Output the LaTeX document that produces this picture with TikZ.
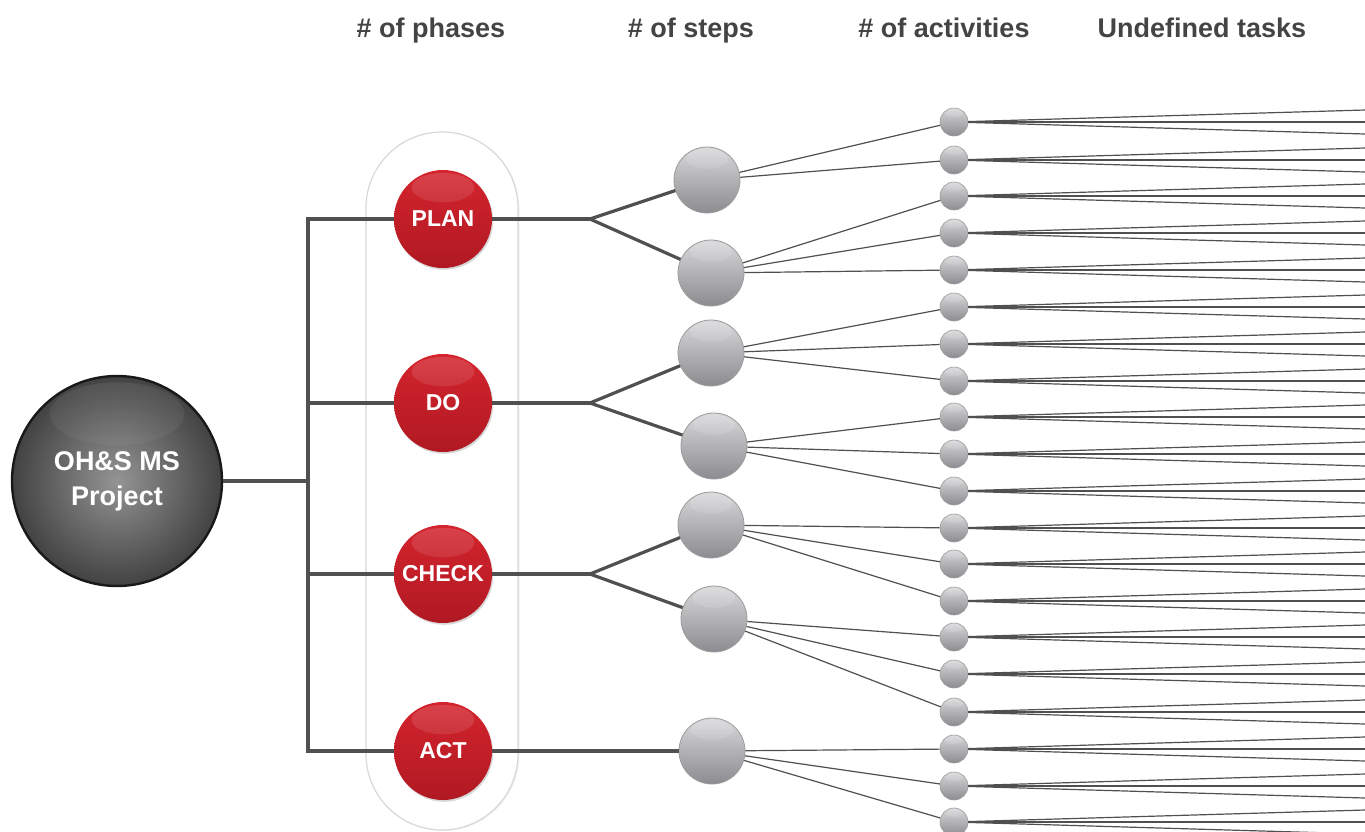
\documentclass[tikz,border=0pt]{standalone}
\usepackage{fontspec}
\setmainfont{Liberation Sans}
\usetikzlibrary{shadows,fadings}
\definecolor{hdr}{HTML}{444444}
\definecolor{ln}{HTML}{505050}
\definecolor{redtop}{HTML}{D4242E}
\definecolor{redmid}{HTML}{CC1F29}
\definecolor{redbot}{HTML}{B01922}
\definecolor{stepTop}{HTML}{D8D8DA}
\definecolor{stepBot}{HTML}{8C8C90}
\definecolor{stepBorder}{HTML}{9C9C9C}
\definecolor{pillBorder}{HTML}{D8D8D8}
\tikzset{
  hdrtext/.style={font=\bfseries\fontsize{27}{30}\selectfont, text=hdr, anchor=base, inner sep=0pt},
  glossy/.style 2 args={path picture={\fill[white,fill opacity=#2,path fading=south]
      ([yshift=-0.36*#1]path picture bounding box.north) ellipse [x radius=0.64*#1, y radius=0.30*#1];}},
  mainc/.style={circle, minimum size=210pt, inner sep=0pt, draw=black!90, line width=2.4pt,
      inner color=black!42, outer color=black!74, glossy={105pt}{0.07},
      text=white, font=\bfseries\fontsize{27}{35}\selectfont, align=center},
  phasec/.style={circle, minimum size=98pt, inner sep=0pt,
      top color=redtop, middle color=redmid, bottom color=redbot, glossy={49pt}{0.14},
      drop shadow={opacity=0.30, shadow xshift=1.2pt, shadow yshift=-1.8pt},
      text=white, font=\bfseries\fontsize{23}{26}\selectfont},
  stepc/.style={circle, minimum size=66pt, inner sep=0pt, draw=stepBorder, line width=0.8pt,
      top color=stepTop, bottom color=stepBot, glossy={33pt}{0.16}},
  actc/.style={circle, minimum size=28pt, inner sep=0pt, draw=stepBorder, line width=0.6pt,
      top color=stepTop, bottom color=stepBot, glossy={14pt}{0.16}},
  pill/.style={draw=pillBorder, line width=1.2pt, fill=white, rounded corners=76pt,
      minimum width=152pt, minimum height=698pt, inner sep=0pt,
      drop shadow={opacity=0.10, shadow xshift=1.5pt, shadow yshift=-1pt}},
  thick line/.style={draw=ln, line width=3.2pt},
  thin line/.style={draw=ln, line width=1.2pt},
}
\begin{document}
\begin{tikzpicture}[x=1pt,y=-1pt]
\useasboundingbox (0,0) rectangle (1365,831);
\fill[white] (0,0) rectangle (1365,831);

% headers
\node[hdrtext] (h1) at (431,37) {\# of phases};
\node[hdrtext] (h2) at (691,37) {\# of steps};
\node[hdrtext] (h3) at (944,37) {\# of activities};
\node[hdrtext] (h4) at (1202,37) {Undefined tasks};

% band behind phases
\node[pill] (band) at (442,481) {};

% main node
\node[mainc] (m) at (117,481) {OH\&S MS\\Project};

% phases
\node[phasec] (plan) at (443,219) {PLAN};
\node[phasec] (do) at (443,403) {DO};
\node[phasec] (check) at (443,574) {CHECK};
\node[phasec] (act) at (443,751) {ACT};

% steps
\node[stepc] (s1) at (707,180) {};
\node[stepc] (s2) at (711,273) {};
\node[stepc] (s3) at (711,353) {};
\node[stepc] (s4) at (714,446) {};
\node[stepc] (s5) at (711,525) {};
\node[stepc] (s6) at (714,619) {};
\node[stepc] (s7) at (712,751) {};

% bus and branch coordinates
\coordinate (b0) at (308,481);
\coordinate (bP) at (308,219);
\coordinate (bD) at (308,403);
\coordinate (bC) at (308,574);
\coordinate (bA) at (308,751);
\coordinate (jP) at (590,219);
\coordinate (jD) at (590,403);
\coordinate (jC) at (590,574);

\draw[thick line] (m) -- (b0);
\draw[thick line, line cap=rect] (bP) -- (bA);
\draw[thick line] (bP) -- (plan);
\draw[thick line] (bD) -- (do);
\draw[thick line] (bC) -- (check);
\draw[thick line] (bA) -- (act);

\draw[thick line] (plan) -- (jP);
\draw[thick line] (jP) -- (s1);
\draw[thick line] (jP) -- (s2);
\draw[thick line] (do) -- (jD);
\draw[thick line] (jD) -- (s3);
\draw[thick line] (jD) -- (s4);
\draw[thick line] (check) -- (jC);
\draw[thick line] (jC) -- (s5);
\draw[thick line] (jC) -- (s6);
\draw[thick line] (act) -- (s7);

% activities and undefined tasks
\foreach \y [count=\i] in {122,160,196,233,270,307,344,381,417,454,491,528,564,601,637,674,712,749,786,822} {
  \node[actc] (a\i) at (954,\y) {};
  \coordinate (tu\i) at (1365,\y-12);
  \coordinate (tm\i) at (1365,\y);
  \coordinate (td\i) at (1365,\y+12);
  \draw[thin line] (a\i) -- (tu\i);
  \draw[thin line] (a\i) -- (tm\i);
  \draw[thin line] (a\i) -- (td\i);
}

% steps to activities
\foreach \s/\a in {s1/a1,s1/a2,
                   s2/a3,s2/a4,s2/a5,
                   s3/a6,s3/a7,s3/a8,
                   s4/a9,s4/a10,s4/a11,
                   s5/a12,s5/a13,s5/a14,
                   s6/a15,s6/a16,s6/a17,
                   s7/a18,s7/a19,s7/a20} {
  \draw[thin line] (\s) -- (\a);
}
\end{tikzpicture}
\end{document}
